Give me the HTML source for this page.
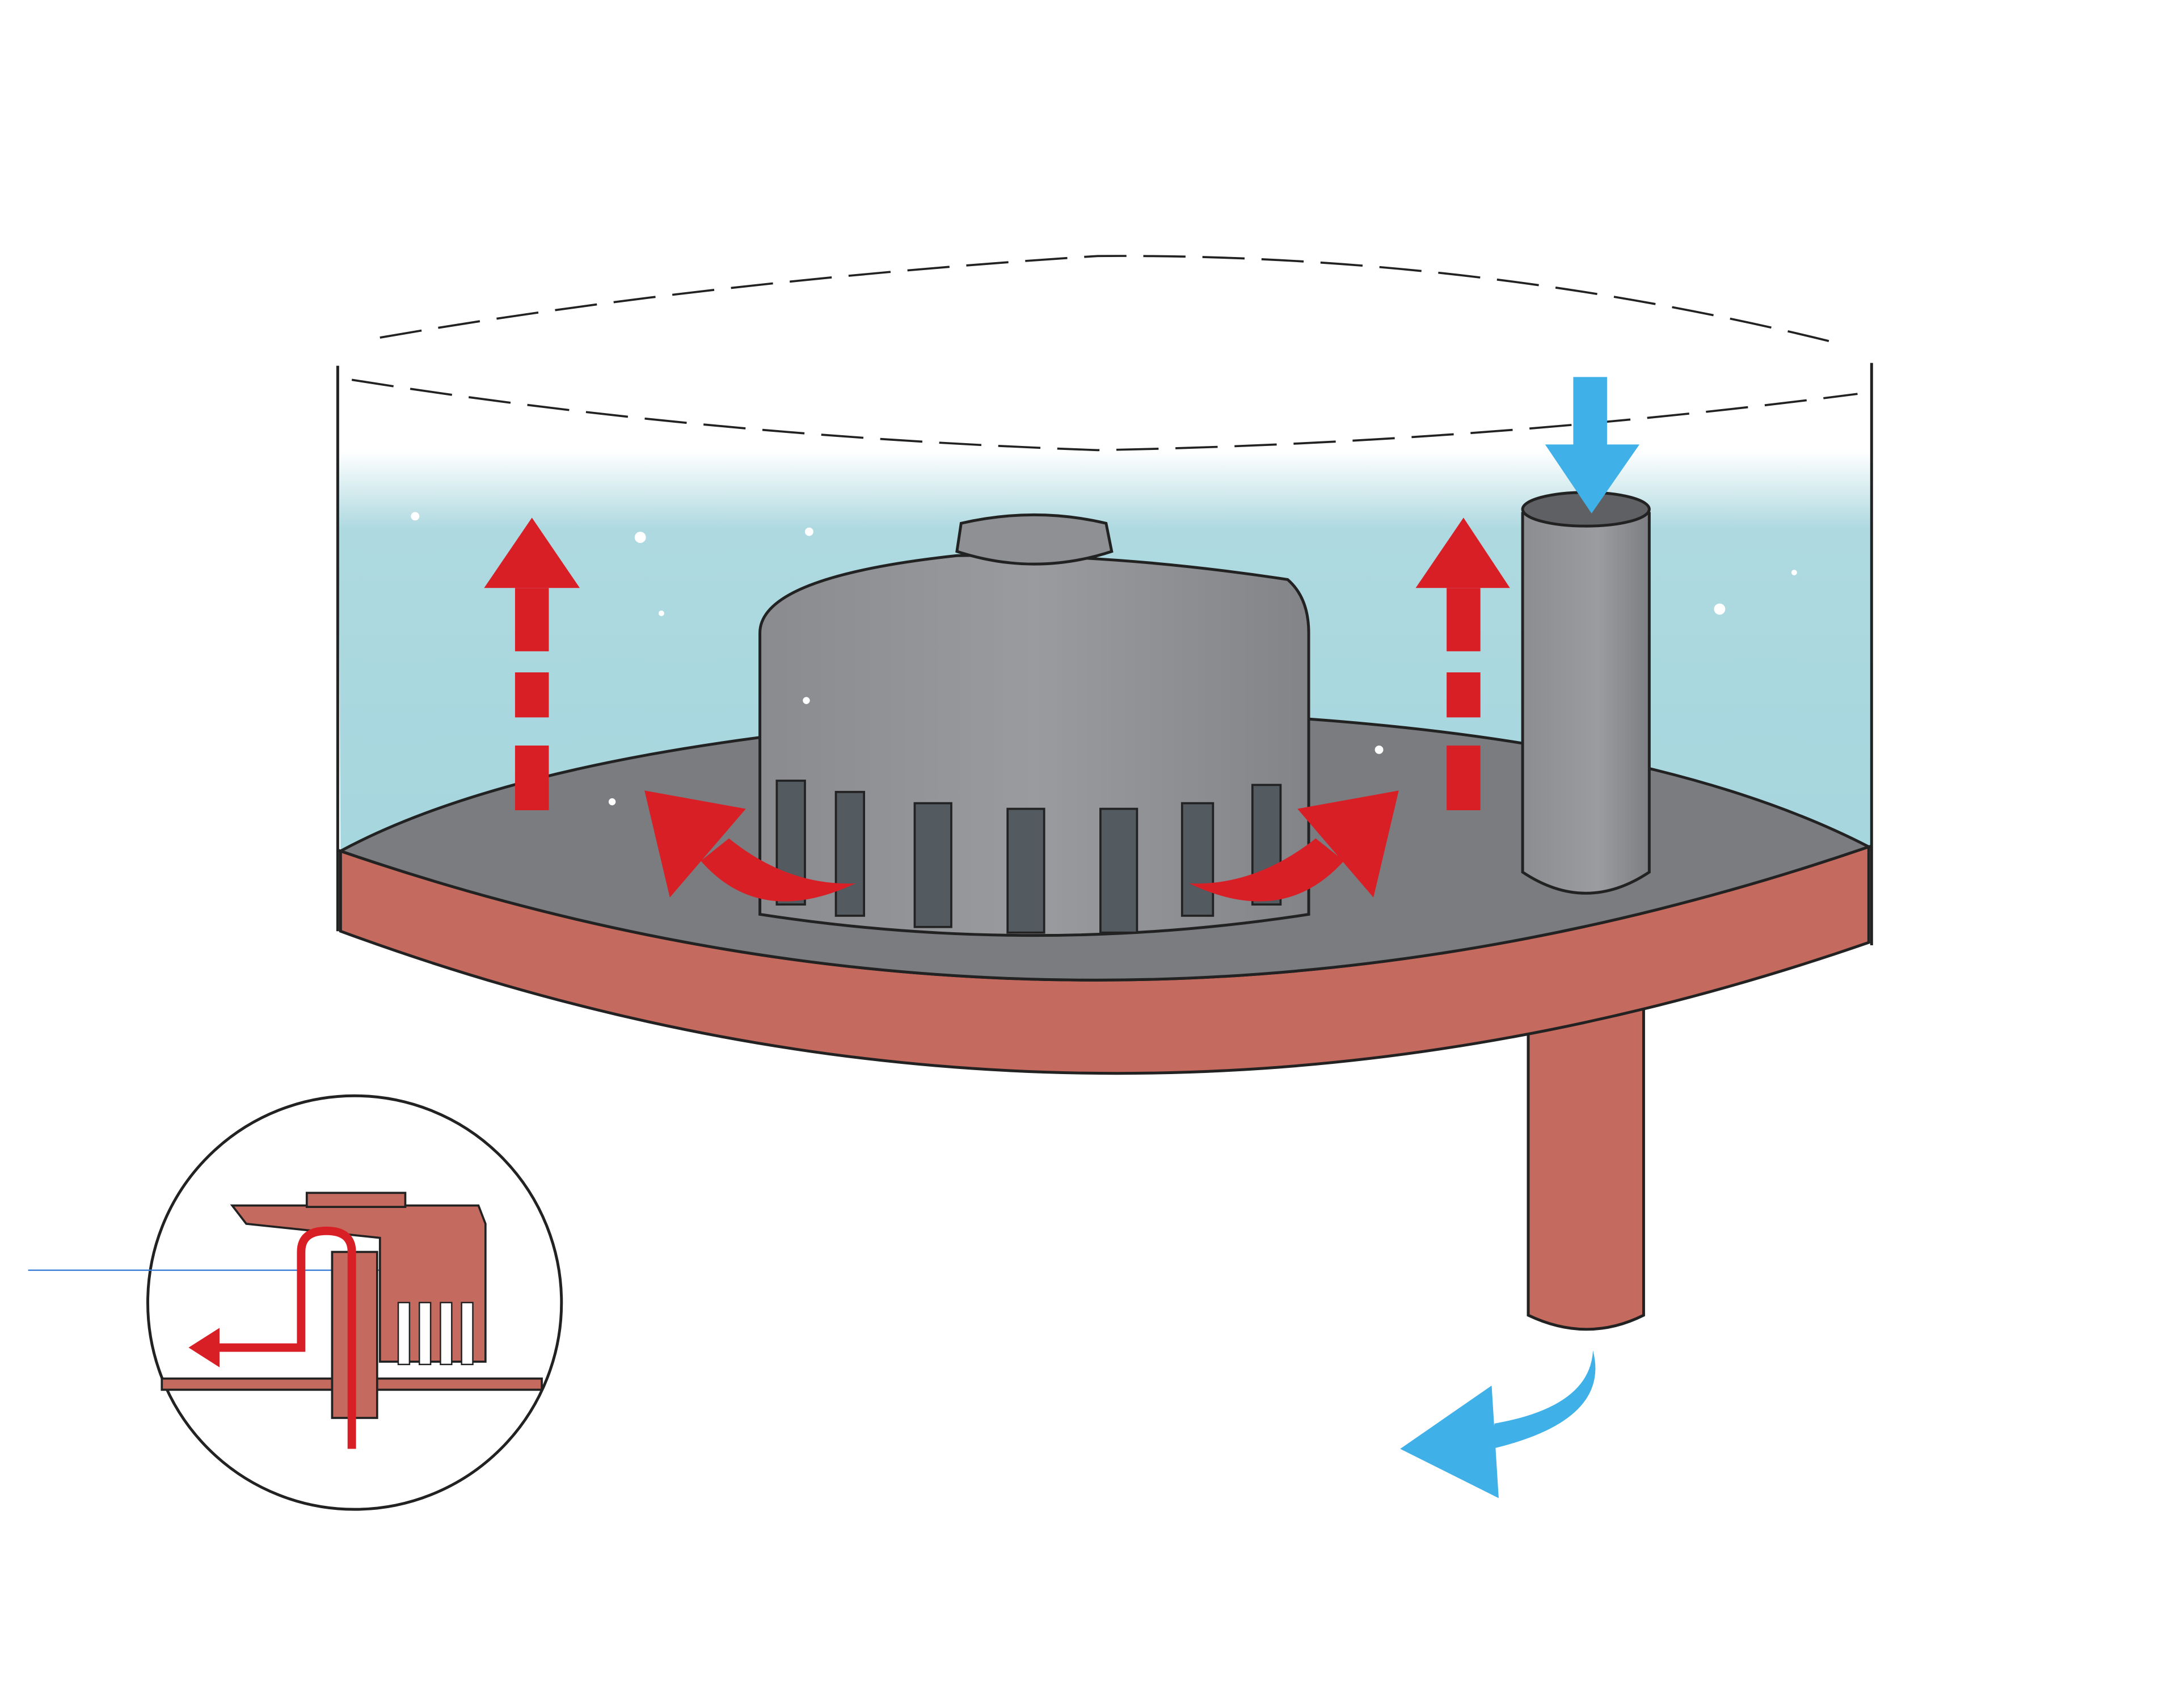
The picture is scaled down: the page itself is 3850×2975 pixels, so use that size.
<!DOCTYPE html>
<html><head><meta charset="utf-8"><style>
html,body{margin:0;padding:0;background:#fff;}
svg{display:block;}
</style></head><body>
<svg width="3850" height="2975" viewBox="0 0 1552 1200" preserveAspectRatio="none" xmlns="http://www.w3.org/2000/svg">
<defs>
<linearGradient id="water" x1="0" y1="0" x2="0" y2="1">
<stop offset="0" stop-color="#ffffff"/>
<stop offset="0.28" stop-color="#ffffff"/>
<stop offset="0.42" stop-color="#aed9e0"/>
<stop offset="1" stop-color="#a6d6de"/>
</linearGradient>
<linearGradient id="pump" x1="0" y1="0" x2="1" y2="0">
<stop offset="0" stop-color="#8a8b8f"/>
<stop offset="0.5" stop-color="#9a9b9f"/>
<stop offset="1" stop-color="#838488"/>
</linearGradient>
<linearGradient id="tube" x1="0" y1="0" x2="1" y2="0">
<stop offset="0" stop-color="#8c8d91"/>
<stop offset="0.6" stop-color="#9b9ca0"/>
<stop offset="1" stop-color="#7d7e82"/>
</linearGradient>
</defs>

<path d="M240 260 Q780 160 1330 260 L1330 605 Q780 500 242 605 Z" fill="url(#water)"/>
<g fill="none" stroke="#222" stroke-width="1.5" stroke-dasharray="30 12">
<path d="M270 240 Q500 200 780 182 Q1050 180 1310 245"/>
<path d="M250 270 Q500 310 780 320 Q1050 315 1320 280"/>
</g>
<line x1="240" y1="260" x2="240" y2="662" stroke="#222" stroke-width="2"/>
<line x1="1330" y1="258" x2="1330" y2="672" stroke="#222" stroke-width="2"/>

<path d="M1086 700 L1086 935 Q1128 955 1168 935 L1168 700 Z" fill="#c46a5e" stroke="#222" stroke-width="2"/>

<path d="M242 605 Q780 790 1328 602 L1328 670 Q780 860 242 662 Z" fill="#c46a5e" stroke="#222" stroke-width="2"/>
<path d="M242 605 Q400 520 780 505 Q1150 510 1328 602 Q780 790 242 605 Z" fill="#7b7c80" stroke="#222" stroke-width="2"/>

<path d="M540 450 Q540 410 680 395 Q790 393 915 412 Q930 425 930 450 L930 650 Q735 680 540 650 Z" fill="url(#pump)" stroke="#222" stroke-width="2"/>
<path d="M680 392 L683 372 Q735 360 786 372 L790 392 Q735 410 680 392 Z" fill="#8f9094" stroke="#222" stroke-width="2"/>
<g fill="#535a60" stroke="#222" stroke-width="1.5">
<rect x="552" y="555" width="20" height="88"/>
<rect x="594" y="563" width="20" height="88"/>
<rect x="650" y="571" width="26" height="88"/>
<rect x="716" y="575" width="26" height="88"/>
<rect x="782" y="575" width="26" height="88"/>
<rect x="840" y="571" width="22" height="80"/>
<rect x="890" y="558" width="20" height="85"/>
</g>

<path d="M1082 365 L1082 620 Q1127 650 1172 620 L1172 365 Z" fill="url(#tube)" stroke="#222" stroke-width="2"/>
<ellipse cx="1127" cy="362" rx="45" ry="12" fill="#5f6064" stroke="#222" stroke-width="2"/>

<g fill="#d81f26">
<polygon points="378,368 412,418 344,418"/>
<rect x="366" y="418" width="24" height="45"/>
<rect x="366" y="478" width="24" height="32"/>
<rect x="366" y="530" width="24" height="46"/>
<polygon points="1040,368 1073,418 1006,418"/>
<rect x="1028" y="418" width="24" height="45"/>
<rect x="1028" y="478" width="24" height="32"/>
<rect x="1028" y="530" width="24" height="46"/>
<path d="M608 628 Q540 660 498 612 L518 596 Q560 630 608 628 Z"/>
<polygon points="458,562 530,575 476,638"/>
<path d="M845 628 Q912 660 955 612 L935 596 Q892 630 845 628 Z"/>
<polygon points="994,562 922,575 976,638"/>
</g>

<g fill="#3fb0e8">
<rect x="1118" y="268" width="24" height="50"/>
<polygon points="1098,316 1165,316 1131,365"/>
<path d="M1132 960 Q1145 1010 1060 1030 L1062 1012 Q1130 1000 1132 960 Z"/>
<polygon points="995,1030 1060,985 1065,1065"/>
</g>

<g fill="#fff">
<circle cx="295" cy="367" r="3"/><circle cx="455" cy="382" r="4"/><circle cx="575" cy="378" r="3"/>
<circle cx="1222" cy="433" r="4"/><circle cx="980" cy="533" r="3"/><circle cx="573" cy="498" r="2.5"/>
<circle cx="435" cy="570" r="2.5"/><circle cx="1275" cy="407" r="2"/><circle cx="470" cy="436" r="2"/>
</g>

<circle cx="252" cy="926" r="147" fill="#fff" stroke="#222" stroke-width="2"/>
<line x1="20" y1="903" x2="340" y2="903" stroke="#3a7bd5" stroke-width="1"/>
<path d="M115 980 L385 980 L385 988 L115 988 Z" fill="#c46a5e" stroke="#222" stroke-width="1.5"/>
<path d="M165 857 L340 857 L345 870 L345 968 L270 968 L270 880 L175 870 Z" fill="#c46a5e" stroke="#222" stroke-width="1.5"/>
<rect x="218" y="848" width="70" height="10" fill="#c46a5e" stroke="#222" stroke-width="1.5"/>
<rect x="236" y="890" width="32" height="118" fill="#c46a5e" stroke="#222" stroke-width="1.5"/>
<g fill="#fff" stroke="#222" stroke-width="1">
<rect x="283" y="926" width="8" height="44"/><rect x="298" y="926" width="8" height="44"/>
<rect x="313" y="926" width="8" height="44"/><rect x="328" y="926" width="8" height="44"/>
</g>
<path d="M250 1030 L250 890 Q250 875 232 875 Q214 875 214 890 L214 958 L150 958" fill="none" stroke="#d81f26" stroke-width="6"/>
<polygon points="134,958 156,944 156,972" fill="#d81f26"/>
</svg>
</body></html>
